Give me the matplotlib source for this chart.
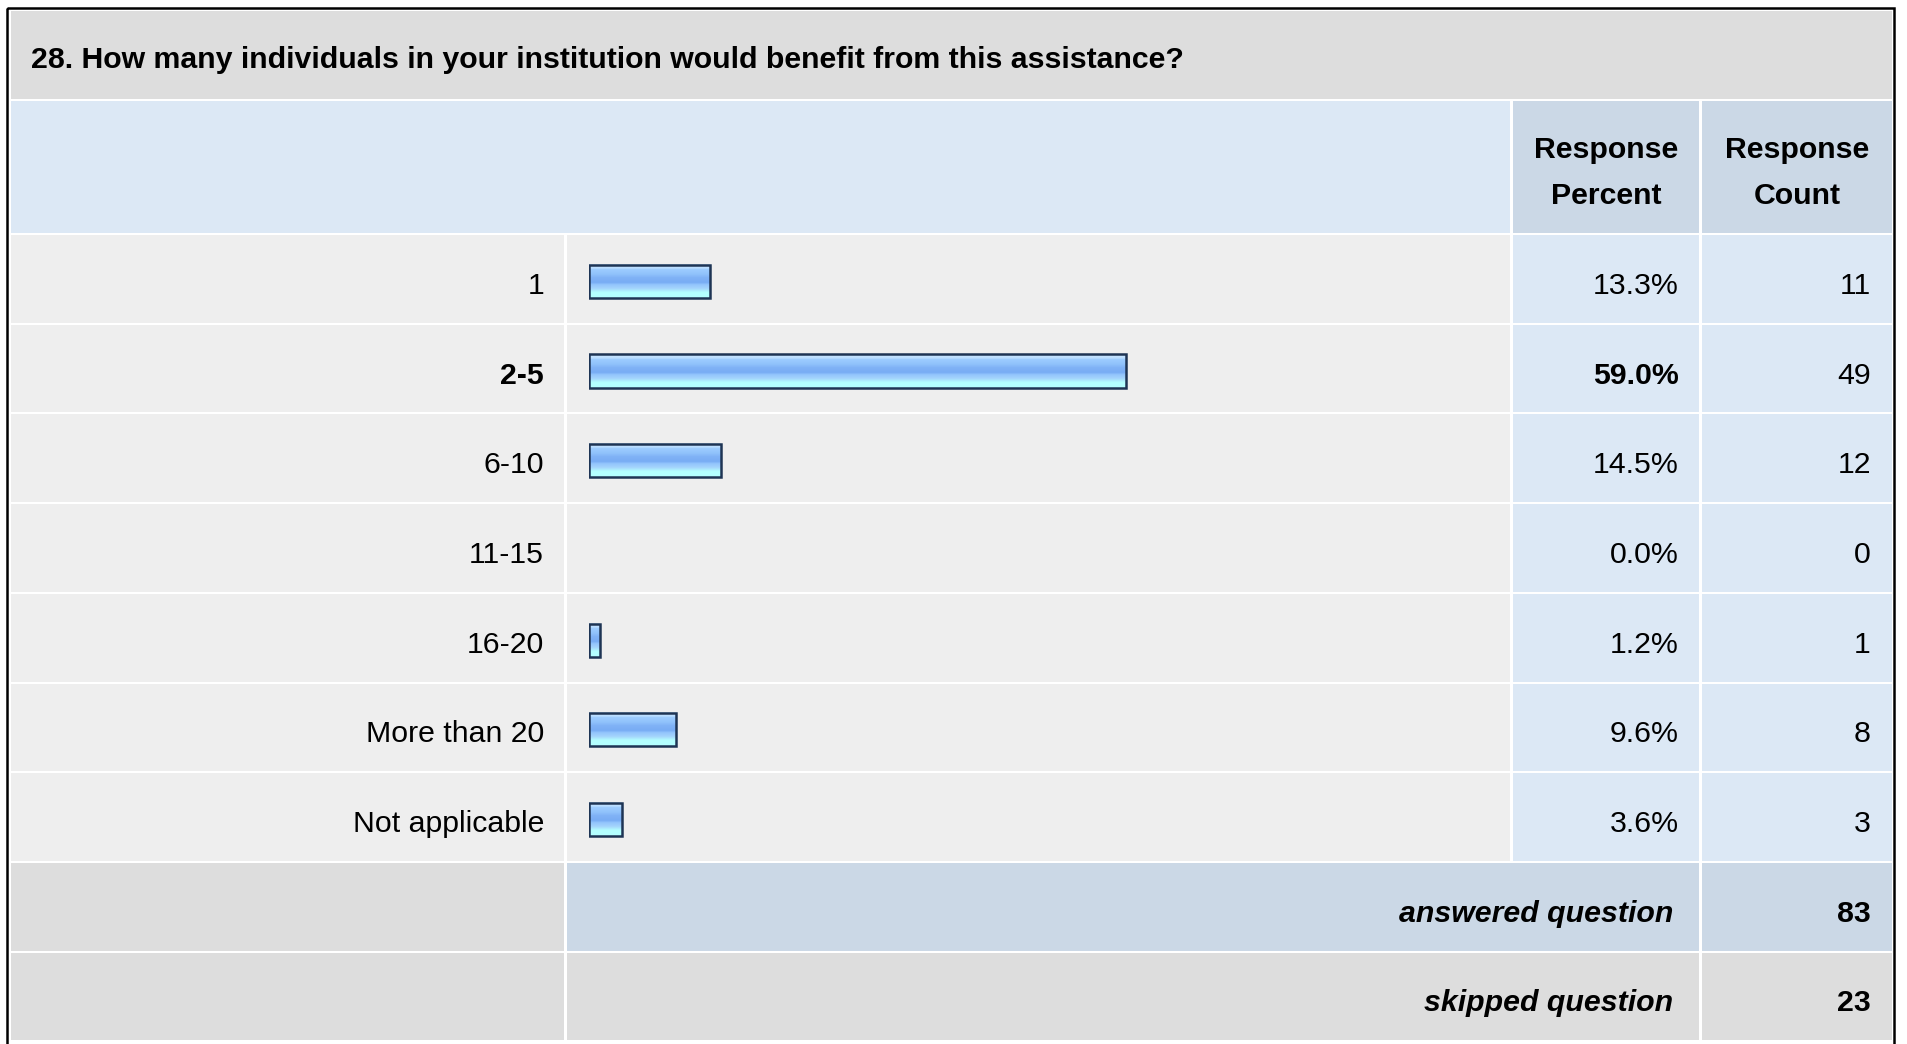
import numpy as np
import matplotlib
matplotlib.use('agg')
import matplotlib.pyplot as plt
from matplotlib.patches import Rectangle
from matplotlib.colors import LinearSegmentedColormap

# Data
title = "28. How many individuals in your institution would benefit from this assistance?"
categories = ["1", "2-5", "6-10", "11-15", "16-20", "More than 20", "Not applicable"]
percents = [13.3, 59.0, 14.5, 0.0, 1.2, 9.6, 3.6]
counts = [11, 49, 12, 0, 1, 8, 3]
answered = 83
skipped = 23

plt.rcParams['font.family'] = ['Liberation Sans', 'DejaVu Sans']
FS = 21.8
CAP = 15  # baseline offset below the visual centre of a line, px

W, H = 1907, 1044
fig = plt.figure(figsize=(W / 100, H / 100), dpi=100)
fig.patch.set_facecolor('white')
ax = fig.add_axes([0, 0, 1, 1])
ax.set_xlim(0, W)
ax.set_ylim(H, 0)
ax.axis('off')

# colours
title_bg = '#dddddd'
hdr_light = '#dce8f5'
hdr_dark = '#cbd8e6'
row_gray = '#eeeeee'

# column edges (pixels)
c_label = (11, 564)
c_bar = (567, 1510)
c_pct = (1513, 1699)
c_cnt = (1702, 1892)
row_top0 = 235
row_h = 89.7
x_lab, x_pct, x_cnt, x_sum = 544, 1679, 1871, 1673


def cell(x0, x1, y0, y1, color):
    ax.add_patch(Rectangle((x0, y0), x1 - x0, y1 - y0, facecolor=color,
                           edgecolor='none', zorder=1))


def txt(x, y, s, **kw):
    ax.text(x, y, s, fontsize=FS, va='baseline', zorder=3, **kw)


# outer border
ax.add_patch(Rectangle((7, 8), 1887, 1100, facecolor='none', edgecolor='black',
                       lw=1.8, zorder=5))

# title row
cell(11, 1892, 11, 99, title_bg)
txt(31, 58 + 10, title, fontweight='bold', ha='left')

# header row
cell(11, 1510, 101, 233, hdr_light)
cell(c_pct[0], c_pct[1], 101, 233, hdr_dark)
cell(c_cnt[0], c_cnt[1], 101, 233, hdr_dark)
for xc, l1, l2 in [((c_pct[0] + c_pct[1]) / 2, "Response", "Percent"),
                   ((c_cnt[0] + c_cnt[1]) / 2, "Response", "Count")]:
    txt(xc, 158, l1, fontweight='bold', ha='center')
    txt(xc, 204, l2, fontweight='bold', ha='center')

# data rows
imax = int(np.argmax(percents))
for i, (lab, p, c) in enumerate(zip(categories, percents, counts)):
    y0 = row_top0 + i * row_h
    y1 = y0 + row_h - 2
    yb = (y0 + y1) / 2 + CAP
    cell(c_label[0], c_label[1], y0, y1, row_gray)
    cell(c_bar[0], c_bar[1], y0, y1, row_gray)
    cell(c_pct[0], c_pct[1], y0, y1, hdr_light)
    cell(c_cnt[0], c_cnt[1], y0, y1, hdr_light)
    wt = 'bold' if i == imax else 'normal'
    txt(x_lab, yb, lab, fontweight=wt, ha='right')
    txt(x_pct, yb, f"{p:.1f}%", fontweight=wt, ha='right')
    txt(x_cnt, yb, str(c), ha='right')

# summary rows
y0 = row_top0 + 7 * row_h
y1 = y0 + row_h - 2
cell(c_label[0], c_label[1], y0, y1, title_bg)
cell(c_bar[0], c_pct[1], y0, y1, hdr_dark)
cell(c_cnt[0], c_cnt[1], y0, y1, hdr_dark)
txt(x_sum, (y0 + y1) / 2 + CAP, "answered question", fontweight='bold',
    style='italic', ha='right')
txt(x_cnt, (y0 + y1) / 2 + CAP, str(answered), fontweight='bold', ha='right')

y0 = row_top0 + 8 * row_h
y1 = y0 + row_h - 2
cell(c_label[0], c_label[1], y0, y1, title_bg)
cell(c_bar[0], c_pct[1], y0, y1, title_bg)
cell(c_cnt[0], c_cnt[1], y0, y1, title_bg)
txt(x_sum, (y0 + y1) / 2 + CAP, "skipped question", fontweight='bold',
    style='italic', ha='right')
txt(x_cnt, (y0 + y1) / 2 + CAP, str(skipped), fontweight='bold', ha='right')

# bar axes over the bar column: 0..100 percent
bx0, bx1 = 589, 1499
by0, by1 = row_top0 + 1.5, row_top0 + 7 * row_h + 1.5
bax = fig.add_axes([bx0 / W, 1 - by1 / H, (bx1 - bx0) / W, (by1 - by0) / H])
bax.set_xlim(0, 100)
bax.set_ylim(len(categories) - 0.5, -0.5)
bax.axis('off')
bax.patch.set_alpha(0)

grad = LinearSegmentedColormap.from_list('bar', [
    (0.0, '#d4ecff'), (0.12, '#b6dbff'), (0.15, '#9ccbff'), (0.28, '#92c4fc'),
    (0.40, '#80b2f6'), (0.55, '#78acf4'), (0.60, '#92c4fc'), (0.72, '#a4d4fc'),
    (0.84, '#b4ffff'), (1.0, '#b4ffff')])
gimg = np.linspace(0, 1, 64).reshape(-1, 1)
bh = 0.37
ypos = np.arange(len(categories))
for y, p in zip(ypos, percents):
    if p <= 0:
        continue
    bax.imshow(gimg, cmap=grad, aspect='auto', interpolation='bilinear',
               extent=(0, p, y + bh / 2, y - bh / 2), zorder=2)
bars = bax.barh(ypos, percents, height=bh, facecolor='none', edgecolor='#1e3454',
                linewidth=1.8, zorder=3)
for b, p in zip(bars, percents):
    if p <= 0:
        b.set_visible(False)

fig.savefig('out.png', dpi=100)
